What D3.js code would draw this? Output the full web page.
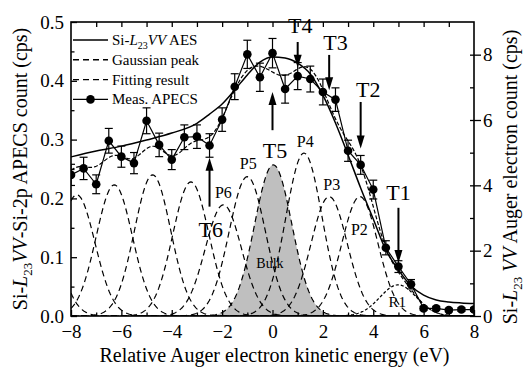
<!DOCTYPE html>
<html>
<head>
<meta charset="utf-8">
<script src="https://cdn.jsdelivr.net/npm/d3@7"></script>
<style>
  body { margin: 0; background: #fff; }
  svg, svg text { font-family: "Liberation Serif", "Times New Roman", Times, serif !important; fill: #000; }
</style>
</head>
<body>
<div id="chart"></div>
<script>
// measured APECS (left axis, cps)
const energy = [-8, -7.5, -7, -6.5, -6, -5.5, -5, -4.5, -4, -3.5, -3, -2.5, -2, -1.5, -1, -0.5,
  0, 0.5, 1, 1.5, 2, 2.5, 3, 3.5, 4, 4.5, 5, 5.5, 6, 6.5, 7, 7.5, 8];
const apecs = [0.240, 0.251, 0.224, 0.298, 0.271, 0.260, 0.332, 0.291, 0.266, 0.304, 0.305, 0.290,
  0.334, 0.390, 0.445, 0.406, 0.447, 0.386, 0.408, 0.403, 0.381, 0.368, 0.281, 0.257, 0.215,
  0.116, 0.084, 0.054, 0.013, 0.013, 0.010, 0.011, 0.011];
const apecsErr = [0.018, 0.019, 0.016, 0.021, 0.018, 0.018, 0.022, 0.020, 0.017, 0.021, 0.020, 0.020,
  0.020, 0.022, 0.024, 0.024, 0.025, 0.024, 0.023, 0.022, 0.022, 0.020, 0.018, 0.016, 0.016,
  0.012, 0.010, 0.008, 0.003, 0.003, 0.003, 0.003, 0.003];

// Si-L23VV AES (right axis, cps)
const aesEnergy = [-8, -7, -6, -5, -4, -3, -2.5, -2, -1.5, -1, -0.5, 0, 0.5, 1, 1.5, 2, 2.5, 3,
  3.5, 4, 4.5, 5, 5.5, 6, 6.5, 7, 7.5, 8];
const aesCount = [4.87, 5.05, 5.20, 5.39, 5.60, 5.90, 6.18, 6.49, 6.92, 7.38, 7.77, 7.93, 7.90,
  7.74, 7.41, 6.76, 5.91, 4.93, 3.92, 2.97, 2.02, 1.41, 0.92, 0.64, 0.49, 0.43, 0.40, 0.38];

// gaussian peaks (center eV, height cps, sigma eV)
const peakName = ["", "", "", "", "", "P6", "P5", "Bulk", "P4", "P3", "P2", "R1"];
const peakCenter = [-9.3, -7.77, -6.28, -4.76, -3.24, -1.95, -1.0, 0.03, 1.25, 2.25, 3.47, 4.99];
const peakHeight = [0.200, 0.206, 0.223, 0.240, 0.228, 0.189, 0.237, 0.257, 0.277, 0.203, 0.203, 0.053];
const peakSigma = [0.72, 0.72, 0.72, 0.72, 0.72, 0.72, 0.72, 0.74, 0.72, 0.72, 0.72, 0.72];

// transition markers: energy, arrow start / end (left-axis units), label position
const markers = [
  { label: "T1", e: 5.0, from: 0.184, to: 0.090, ly: 0.197, lx: 5.0 },
  { label: "T2", e: 3.5, from: 0.364, to: 0.285, ly: 0.372, lx: 3.8 },
  { label: "T3", e: 2.25, from: 0.444, to: 0.384, ly: 0.452, lx: 2.5 },
  { label: "T4", e: 1.0, from: 0.466, to: 0.422, ly: 0.482, lx: 1.1 },
  { label: "T5", e: 0.0, from: 0.316, to: 0.381, ly: 0.269, lx: 0.1 },
  { label: "T6", e: -2.5, from: 0.186, to: 0.269, ly: 0.134, lx: -2.45 }
];
const peakLabels = [
  { label: "P6", e: -1.95, v: 0.200, size: 16 },
  { label: "P5", e: -0.96, v: 0.250, size: 16 },
  { label: "P4", e: 1.3, v: 0.288, size: 16 },
  { label: "P3", e: 2.35, v: 0.214, size: 16 },
  { label: "P2", e: 3.45, v: 0.138, size: 16 },
  { label: "R1", e: 4.95, v: 0.015, size: 15 },
  { label: "Bulk", e: -0.1, v: 0.082, size: 14 }
];

const FONT = "'Liberation Serif', 'Times New Roman', Times, serif";
const width = 532, height = 369;
const svg = d3.select("#chart").append("svg")
  .attr("width", width)
  .attr("height", height)
  .style("font-family", FONT);

const x = d3.scaleLinear().domain([-8, 8]).range([71, 474]);
const yL = d3.scaleLinear().domain([0, 0.5]).range([316, 22]);
const yR = d3.scaleLinear().domain([0, 9]).range([316, 22]);

svg.append("clipPath").attr("id", "plot-clip")
  .append("rect")
  .attr("x", x(-8)).attr("y", yL(0.5))
  .attr("width", x(8) - x(-8)).attr("height", yL(0) - yL(0.5));

const plot = svg.append("g").attr("clip-path", "url(#plot-clip)");

function gauss(e, i) {
  const d = e - peakCenter[i];
  return peakHeight[i] * Math.exp(-d * d / (2 * peakSigma[i] * peakSigma[i]));
}
const grid = d3.range(-8, 8.0001, 0.04);

// bulk peak shaded
const bulk = peakName.indexOf("Bulk");
plot.append("path")
  .datum(grid)
  .attr("fill", "#bfbfbf")
  .attr("d", d3.area().x(e => x(e)).y0(yL(0)).y1(e => yL(gauss(e, bulk))));

// gaussian peaks
peakCenter.forEach((c, i) => {
  plot.append("path")
    .datum(grid)
    .attr("fill", "none")
    .attr("stroke", "#000")
    .attr("stroke-width", 1.2)
    .attr("stroke-dasharray", peakName[i] === "R1" ? "3,2" : "6,4")
    .attr("d", d3.line().x(e => x(e)).y(e => yL(gauss(e, i))));
});

// fitting result = sum of peaks
plot.append("path")
  .datum(grid)
  .attr("fill", "none")
  .attr("stroke", "#000")
  .attr("stroke-width", 1.2)
  .attr("stroke-dasharray", "4,2")
  .attr("d", d3.line().x(e => x(e)).y(e => yL(d3.sum(peakCenter, (c, i) => gauss(e, i)))));

// AES curve on right axis
plot.append("path")
  .datum(aesEnergy.map((e, i) => [e, aesCount[i]]))
  .attr("fill", "none")
  .attr("stroke", "#000")
  .attr("stroke-width", 1.5)
  .attr("d", d3.line().x(d => x(d[0])).y(d => yR(d[1])).curve(d3.curveMonotoneX));

// measured APECS
const meas = energy.map((e, i) => ({ e: e, v: apecs[i], err: apecsErr[i] }));
plot.append("path")
  .datum(meas)
  .attr("fill", "none")
  .attr("stroke", "#000")
  .attr("stroke-width", 1.2)
  .attr("d", d3.line().x(d => x(d.e)).y(d => yL(d.v)));

const eb = plot.append("g").attr("stroke", "#000").attr("stroke-width", 1.2);
meas.forEach(d => {
  const cx = x(d.e);
  eb.append("line").attr("x1", cx).attr("x2", cx).attr("y1", yL(d.v - d.err)).attr("y2", yL(d.v + d.err));
  eb.append("line").attr("x1", cx - 4).attr("x2", cx + 4).attr("y1", yL(d.v + d.err)).attr("y2", yL(d.v + d.err));
  eb.append("line").attr("x1", cx - 4).attr("x2", cx + 4).attr("y1", yL(d.v - d.err)).attr("y2", yL(d.v - d.err));
});
plot.selectAll("circle.meas")
  .data(meas)
  .join("circle")
  .attr("class", "meas")
  .attr("cx", d => x(d.e))
  .attr("cy", d => yL(d.v))
  .attr("r", 4.3)
  .attr("fill", "#000");

// arrows
const arrows = svg.append("g");
markers.forEach(m => {
  const ax = x(m.e), y1 = yL(m.from), y2 = yL(m.to);
  const dir = y2 > y1 ? 1 : -1;
  arrows.append("line")
    .attr("x1", ax).attr("x2", ax)
    .attr("y1", y1).attr("y2", y2 - dir * 10)
    .attr("stroke", "#000").attr("stroke-width", 2);
  arrows.append("path")
    .attr("d", `M${ax},${y2} L${ax - 4},${y2 - dir * 13} L${ax + 4},${y2 - dir * 13} Z`)
    .attr("fill", "#000");
  arrows.append("text")
    .attr("x", x(m.lx)).attr("y", yL(m.ly))
    .attr("text-anchor", "middle")
    .attr("font-size", 22)
    .style("font-family", FONT)
    .text(m.label);
});

peakLabels.forEach(p => {
  svg.append("text")
    .attr("x", x(p.e)).attr("y", yL(p.v))
    .attr("text-anchor", "middle")
    .attr("font-size", p.size)
    .style("font-family", FONT)
    .text(p.label);
});

// axes
const ax = svg.append("g");
function styleAxis(g) {
  g.attr("font-family", null).attr("font-size", null);
  g.select(".domain").remove();
  g.selectAll(".tick line").attr("stroke", "#000").attr("stroke-width", 1.3);
  g.selectAll(".tick text").attr("font-size", 19).style("font-family", FONT);
}
ax.append("g").attr("transform", `translate(0,${yL(0)})`)
  .call(d3.axisBottom(x).tickValues([-8, -6, -4, -2, 0, 2, 4, 6, 8]).tickSize(-6).tickPadding(9)
    .tickFormat(d3.format("d")))
  .call(styleAxis);
ax.append("g").attr("transform", `translate(0,${yL(0)})`)
  .call(d3.axisBottom(x).tickValues([-7, -5, -3, -1, 1, 3, 5, 7]).tickSize(-3.5).tickFormat(""))
  .call(styleAxis);
ax.append("g").attr("transform", `translate(0,${yL(0.5)})`)
  .call(d3.axisTop(x).tickValues(d3.range(-7, 8, 1)).tickSize(-5).tickFormat(""))
  .call(styleAxis);
ax.append("g").attr("transform", `translate(${x(-8)},0)`)
  .call(d3.axisLeft(yL).tickValues([0, 0.1, 0.2, 0.3, 0.4, 0.5]).tickSize(-6).tickPadding(7)
    .tickFormat(d3.format(".1f")))
  .call(styleAxis);
ax.append("g").attr("transform", `translate(${x(-8)},0)`)
  .call(d3.axisLeft(yL).tickValues([0.05, 0.15, 0.25, 0.35, 0.45]).tickSize(-3.5).tickFormat(""))
  .call(styleAxis);
ax.append("g").attr("transform", `translate(${x(8)},0)`)
  .call(d3.axisRight(yR).tickValues([0, 2, 4, 6, 8]).tickSize(7).tickPadding(2).tickFormat(d3.format("d")))
  .call(styleAxis);
ax.append("g").attr("transform", `translate(${x(8)},0)`)
  .call(d3.axisRight(yR).tickValues([0, 2, 4, 6, 8]).tickSize(-4).tickFormat(""))
  .call(styleAxis);
ax.append("g").attr("transform", `translate(${x(8)},0)`)
  .call(d3.axisRight(yR).tickValues([1, 3, 5, 7]).tickSize(-4).tickFormat(""))
  .call(styleAxis);

svg.append("rect")
  .attr("x", x(-8)).attr("y", yL(0.5))
  .attr("width", x(8) - x(-8)).attr("height", yL(0) - yL(0.5))
  .attr("fill", "none").attr("stroke", "#000").attr("stroke-width", 1.6);

// axis titles
svg.append("text")
  .attr("x", (x(-8) + x(8)) / 2 + 2).attr("y", 362)
  .attr("text-anchor", "middle")
  .attr("font-size", 20)
  .style("font-family", FONT)
  .text("Relative Auger electron kinetic energy (eV)");

const leftTitle = svg.append("text")
  .attr("transform", `translate(27,${(yL(0) + yL(0.5)) / 2}) rotate(-90)`)
  .attr("text-anchor", "middle")
  .attr("font-size", 20)
  .style("font-family", FONT);
leftTitle.append("tspan").text("Si-");
leftTitle.append("tspan").attr("font-style", "italic").text("L");
leftTitle.append("tspan").attr("font-size", 13).attr("dy", 5).text("23");
leftTitle.append("tspan").attr("dy", -5).attr("font-style", "italic").text("VV");
leftTitle.append("tspan").text("-Si-2p APECS count (cps)");

const rightTitle = svg.append("text")
  .attr("transform", `translate(517,${(yL(0) + yL(0.5)) / 2 + 8}) rotate(-90)`)
  .attr("text-anchor", "middle")
  .attr("font-size", 20)
  .style("font-family", FONT);
rightTitle.append("tspan").text("Si-");
rightTitle.append("tspan").attr("font-style", "italic").text("L");
rightTitle.append("tspan").attr("font-size", 13).attr("dy", 5).text("23");
rightTitle.append("tspan").attr("dy", -5).attr("font-style", "italic").text(" VV");
rightTitle.append("tspan").text(" Auger electron count (cps)");

// legend
const legendItems = [
  { name: "aes", dash: null, dot: false },
  { name: "Gaussian peak", dash: "6,4", dot: false },
  { name: "Fitting result", dash: "6,4", dot: false },
  { name: "Meas. APECS", dash: null, dot: true }
];
const legend = svg.append("g");
legendItems.forEach((it, i) => {
  const ly = 40 + i * 19.8;
  legend.append("line")
    .attr("x1", 73).attr("x2", 108).attr("y1", ly).attr("y2", ly)
    .attr("stroke", "#000").attr("stroke-width", 1.4)
    .attr("stroke-dasharray", it.dash);
  if (it.dot) legend.append("circle").attr("cx", 90.5).attr("cy", ly).attr("r", 4.3).attr("fill", "#000");
  const t = legend.append("text").attr("x", 112).attr("y", ly + 5).attr("font-size", 15)
    .style("font-family", FONT);
  if (it.name === "aes") {
    t.append("tspan").text("Si-");
    t.append("tspan").attr("font-style", "italic").text("L");
    t.append("tspan").attr("font-size", 10).attr("dy", 4).text("23");
    t.append("tspan").attr("dy", -4).attr("font-style", "italic").text("VV");
    t.append("tspan").text(" AES");
  } else {
    t.text(it.name);
  }
});
</script>
</body>
</html>
